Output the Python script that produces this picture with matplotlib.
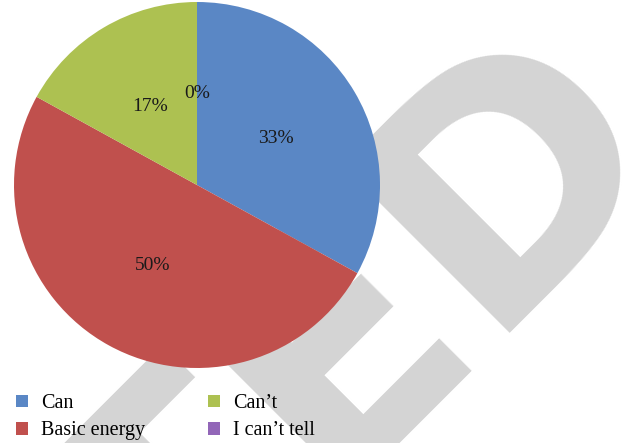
import matplotlib
matplotlib.use("Agg")
import matplotlib.pyplot as plt
from matplotlib.patches import Patch

# Survey answers (percent of respondents)
categories = ["Can", "Basic energy", "Can\u2019t", "I can\u2019t tell"]
shares = [33, 50, 17, 0]
colors = ["#5A87C5", "#C0504D", "#ADC151", "#9266B8"]

W, H = 623, 443
fig = plt.figure(figsize=(W / 100, H / 100), dpi=100)

# Diagonal watermark behind the chart
fig.text(671 / W, 1 - 142 / H, "RETRACTED", rotation=45, rotation_mode="anchor",
         ha="right", va="baseline", fontsize=234, fontweight="bold",
         family="DejaVu Sans", color="#D4D4D4", zorder=-5)

cx, cy, r = 197, 185, 183
ax = fig.add_axes([(cx - r) / W, (H - cy - r) / H, 2 * r / W, 2 * r / H])
ax.patch.set_visible(False)

wedges, texts, autotexts = ax.pie(
    shares, colors=colors, startangle=90, counterclock=False,
    autopct=lambda v: f"{v:.0f}%", pctdistance=0.5,
    textprops=dict(family="Liberation Serif", fontsize=14, color="#1a1a1a"),
    wedgeprops=dict(linewidth=0))
ax.set_xlim(-1, 1)
ax.set_ylim(-1, 1)
ax.set_aspect("equal")
ax.axis("off")

handles = [Patch(facecolor=c, edgecolor="none") for c in colors]
fig.legend(handles, categories, ncol=2, loc="upper left",
           bbox_to_anchor=(12 / W, 1 - 390 / H), frameon=False,
           prop=dict(family="Liberation Serif", size=14.5),
           handlelength=0.6, handleheight=0.6, handletextpad=0.65,
           columnspacing=3.1, labelspacing=0.42, borderpad=0.2,
           borderaxespad=0)

fig.savefig("out.png", dpi=100)
